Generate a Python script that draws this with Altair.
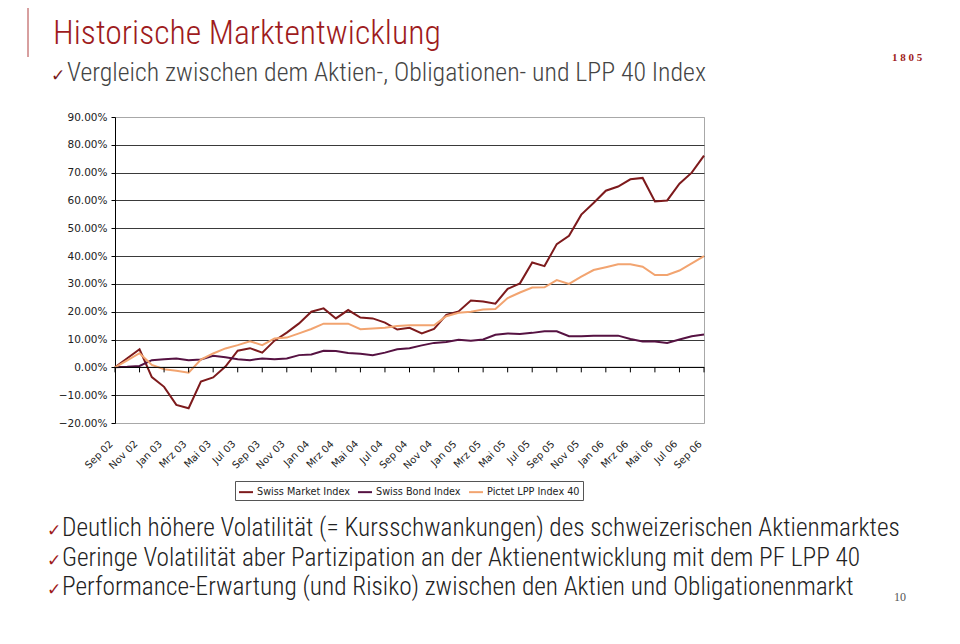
import altair as alt
import pandas as pd

# ---------------- data ----------------
months = [
    "Sep 02", "Okt 02", "Nov 02", "Dez 02",
    "Jan 03", "Feb 03", "Mrz 03", "Apr 03", "Mai 03", "Jun 03", "Jul 03", "Aug 03", "Sep 03", "Okt 03", "Nov 03", "Dez 03",
    "Jan 04", "Feb 04", "Mrz 04", "Apr 04", "Mai 04", "Jun 04", "Jul 04", "Aug 04", "Sep 04", "Okt 04", "Nov 04", "Dez 04",
    "Jan 05", "Feb 05", "Mrz 05", "Apr 05", "Mai 05", "Jun 05", "Jul 05", "Aug 05", "Sep 05", "Okt 05", "Nov 05", "Dez 05",
    "Jan 06", "Feb 06", "Mrz 06", "Apr 06", "Mai 06", "Jun 06", "Jul 06", "Aug 06", "Sep 06",
]
axis_labels = [
    "Sep 02", "Nov 02", "Jan 03", "Mrz 03", "Mai 03", "Jul 03", "Sep 03", "Nov 03", "Jan 04",
    "Mrz 04", "Mai 04", "Jul 04", "Sep 04", "Nov 04", "Jan 05", "Mrz 05", "Mai 05", "Jul 05",
    "Sep 05", "Nov 05", "Jan 06", "Mrz 06", "Mai 06", "Jul 06", "Sep 06",
]
y_ticks = [-20, -10, 0, 10, 20, 30, 40, 50, 60, 70, 80, 90]

series_names = ["Swiss Market Index", "Swiss Bond Index", "Pictet LPP Index 40"]
series_colors = ["#7d1a1c", "#561242", "#f2a470"]

smi = [0, 3.3, 6.5, -3.5, -7.0, -13.5, -14.7, -5.1, -3.6, 0.3, 6.0, 6.9, 5.3, 9.6, 12.5, 15.8,
       20.0, 21.2, 17.6, 20.6, 17.9, 17.6, 16.1, 13.6, 14.2, 12.2, 13.8, 18.9, 20.1, 24.0, 23.7, 22.9,
       28.2, 30.2, 37.7, 36.4, 44.3, 47.3, 54.9, 59.1, 63.5, 65.0, 67.6, 68.1, 59.6, 60.0, 66.0, 70.0, 76.1]
bond = [0, 0.2, 0.5, 2.6, 2.9, 3.2, 2.6, 2.8, 4.2, 3.6, 2.9, 2.6, 3.2, 2.9, 3.2, 4.4,
        4.6, 6.0, 5.9, 5.2, 4.9, 4.4, 5.3, 6.5, 6.9, 7.9, 8.8, 9.1, 9.9, 9.6, 10.0, 11.7,
        12.2, 12.0, 12.4, 13.0, 13.0, 11.2, 11.2, 11.4, 11.4, 11.4, 10.2, 9.3, 9.3, 8.8, 10.0, 11.2, 11.8]
lpp = [0, 2.5, 5.1, 0.9, -0.7, -1.2, -1.9, 2.8, 5.0, 6.8, 8.0, 9.4, 8.0, 10.4, 10.7, 12.2,
       13.8, 15.7, 15.7, 15.7, 13.7, 14.0, 14.2, 14.9, 15.1, 15.1, 15.1, 18.4, 19.6, 20.0, 20.8, 21.0,
       24.9, 26.9, 28.7, 28.8, 31.4, 30.0, 32.6, 35.0, 36.0, 37.1, 37.1, 36.2, 33.2, 33.2, 34.8, 37.4, 40.0]

title_text = "Historische Marktentwicklung"
subtitle_text = "Vergleich zwischen dem Aktien-, Obligationen- und LPP 40 Index"
bullets = [
    "Deutlich höhere Volatilität (= Kursschwankungen) des schweizerischen Aktienmarktes",
    "Geringe Volatilität aber Partizipation an der Aktienentwicklung mit dem PF LPP 40",
    "Performance-Erwartung (und Risiko) zwischen den Aktien und Obligationenmarkt",
]
page_number = "10"
logo_year = "1  8  0  5"

# ---------------- layout ----------------
W, H = 589, 306
OX, OY = 115, 117  # page position of plot origin
NARROW = "Liberation Sans Narrow, Roboto Condensed, DejaVu Sans Condensed, Liberation Sans, sans-serif"
CHART_FONT = "DejaVu Sans"
RED = "#9e1b20"

rows = []
for name, vals in zip(series_names, [smi, bond, lpp]):
    for m, v in zip(months, vals):
        rows.append({"Monat": m, "Wert": v, "Reihe": name})
df = pd.DataFrame(rows)

one = pd.DataFrame({"k": [0]})

x_enc = alt.X(
    "Monat:O", sort=months,
    scale=alt.Scale(type="point", domain=months, padding=0),
    axis=alt.Axis(values=axis_labels, labelAngle=-45, labelAlign="right", labelBaseline="middle",
                  ticks=False, domain=False, grid=False, title=None, labelOverlap=False,
                  labelFont=CHART_FONT, labelFontSize=10, labelColor="#222",
                  labelPadding=19, labelOffset=-4),
)
y_enc = alt.Y(
    "Wert:Q",
    scale=alt.Scale(domain=[-20, 90], nice=False, zero=False),
    axis=alt.Axis(values=y_ticks, tickCount=len(y_ticks), labelOverlap=False,
                  labelExpr="format(datum.value/100, '.2%')", title=None,
                  grid=True,
                  gridColor={"condition": {"test": "datum.value == 90 || datum.value == -20", "value": "#a8a8a8"},
                             "value": "#3a3a3a"},
                  gridWidth=1, domainColor="#000", tickColor="#000", tickSize=4,
                  labelFont=CHART_FONT, labelFontSize=10.5, labelColor="#222", labelPadding=4),
)

lines = alt.Chart(df).mark_line(strokeWidth=2).encode(
    x=x_enc, y=y_enc,
    color=alt.Color("Reihe:N", sort=series_names,
                    scale=alt.Scale(domain=series_names, range=series_colors),
                    legend=alt.Legend(orient="none", legendX=120, legendY=364, direction="horizontal",
                                      title=None, strokeColor="#555", fillColor="white", padding=3,
                                      symbolType="stroke", symbolStrokeWidth=2, symbolSize=196,
                                      labelFont=CHART_FONT, labelFontSize=9.7, labelColor="#222",
                                      columnPadding=4, labelOffset=3)),
)

zero_rule = alt.Chart(one).mark_rule(color="#000", strokeWidth=1).encode(y=alt.datum(0))

tick_df = pd.DataFrame({"Monat": axis_labels})
ticks = alt.Chart(tick_df).mark_rule(color="#000", strokeWidth=1, y2Offset=5).encode(
    x=alt.X("Monat:O", sort=months), y=alt.datum(0), y2=alt.datum(0))


def txt(s, x, y, size, color, font=NARROW, weight="normal", align="left"):
    return alt.Chart(pd.DataFrame({"t": [s]})).mark_text(
        align=align, baseline="alphabetic", fontSize=size, font=font, color=color, fontWeight=weight
    ).encode(text="t:N", x=alt.value(x - OX), y=alt.value(y - OY))


layers = [lines, zero_rule, ticks]

# decorations
layers.append(alt.Chart(one).mark_rule(color="#b04040", strokeWidth=1).encode(
    x=alt.value(28 - OX), y=alt.value(0 - OY), y2=alt.value(57 - OY)))
layers.append(txt(title_text, 53, 44, 33.7, RED, weight=300))
layers.append(txt("✓", 51, 81, 17, "#7a1a1a", font="DejaVu Sans"))
layers.append(txt(subtitle_text, 67, 81, 25.8, "#444", weight=300))
for i, b in enumerate(bullets):
    yb = 536 + i * 29.5
    layers.append(txt("✓", 47, yb, 17, RED, font="DejaVu Sans"))
    layers.append(txt(b, 62, yb, 25.3, "#222", weight=300))
layers.append(txt(page_number, 900, 601, 12, "#555", font="Liberation Serif", align="center"))
layers.append(txt(logo_year, 907, 61, 11, RED, font="Liberation Serif", weight="bold", align="center"))

chart = alt.layer(*layers).properties(
    width=W, height=H,
    autosize=alt.AutoSizeParams(type="none"),
    padding={"left": OX - 8, "top": OY - 8, "right": 944 - (OX - 8) - W, "bottom": 620 - (OY - 8) - H},
    background="white",
).configure_view(stroke="#a8a8a8", strokeWidth=1)

chart.save("out.html", embed_options={"renderer": "svg", "actions": False})
